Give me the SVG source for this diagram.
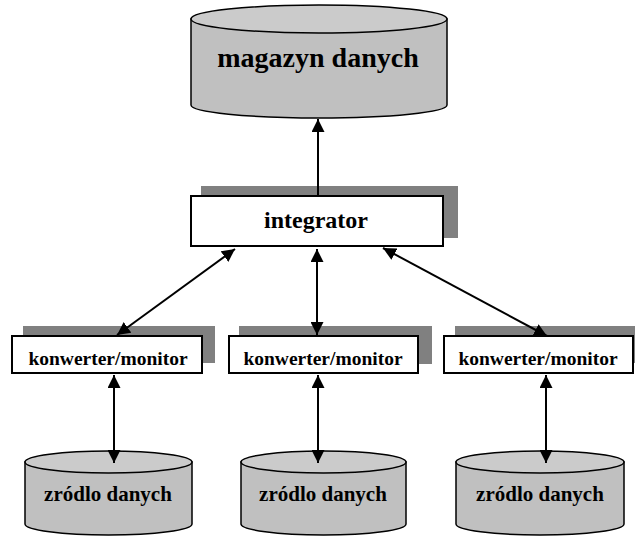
<svg xmlns="http://www.w3.org/2000/svg" width="635" height="537" viewBox="0 0 635 537">
<defs>
<style>
.shadow{fill:#808080;stroke:none}
.box{fill:#fff;stroke:#000;stroke-width:2}
.cyl{fill:#c0c0c0;stroke:#000;stroke-width:1.5}
.top{fill:#cbcbcb;stroke:#000;stroke-width:1.5}
.t{font-family:"Liberation Serif","Times New Roman",serif;font-weight:bold;fill:#000;text-anchor:middle}
.conn{stroke:#000;stroke-width:2;fill:none}
</style>
<marker id="ah" viewBox="0 0 13 13" refX="13" refY="6.5" markerWidth="13" markerHeight="13" markerUnits="userSpaceOnUse" orient="auto-start-reverse">
<path d="M0,0 L13,6.5 L0,13 Z" fill="#000"/>
</marker>
</defs>
<rect width="635" height="537" fill="#fff"/>

<g id="magazyn">
<path class="cyl" d="M191,19 L191,105 A128,13 0 0 0 447,105 L447,19 Z"/>
<ellipse class="top" cx="319" cy="19" rx="128" ry="14"/>
<text class="t" x="318" y="67" font-size="28">magazyn danych</text>
</g>

<g id="integrator">
<rect class="shadow" x="201" y="186" width="257" height="52"/>
<rect class="box" x="191" y="196" width="252" height="50"/>
<text class="t" x="316" y="228" font-size="24">integrator</text>
</g>

<g id="konw1">
<rect class="shadow" x="23" y="326" width="192" height="37"/>
<rect class="box" x="12" y="336" width="190" height="37"/>
<text class="t" x="108" y="365" font-size="19.5">konwerter/monitor</text>
</g>

<g id="konw2">
<rect class="shadow" x="239" y="326" width="193" height="38"/>
<rect class="box" x="229" y="336" width="189" height="37"/>
<text class="t" x="323" y="365" font-size="19.5">konwerter/monitor</text>
</g>

<g id="konw3">
<rect class="shadow" x="455" y="326" width="180" height="37"/>
<rect class="box" x="444" y="336" width="189" height="37"/>
<text class="t" x="538" y="365" font-size="19.5">konwerter/monitor</text>
</g>

<g id="zrodlo1">
<path class="cyl" d="M25,462 L25,524 A83.5,11 0 0 0 192,524 L192,462 Z"/>
<ellipse class="top" cx="108.5" cy="462" rx="83.5" ry="11"/>
<text class="t" x="108" y="501" font-size="21">zródlo danych</text>
</g>

<g id="zrodlo2">
<path class="cyl" d="M241,462 L241,524 A82.5,11 0 0 0 406,524 L406,462 Z"/>
<ellipse class="top" cx="323.5" cy="462" rx="82.5" ry="11"/>
<text class="t" x="323" y="501" font-size="21">zródlo danych</text>
</g>

<g id="zrodlo3">
<path class="cyl" d="M456,462 L456,524 A84,11 0 0 0 624,524 L624,462 Z"/>
<ellipse class="top" cx="540" cy="462" rx="84" ry="11"/>
<text class="t" x="540" y="501" font-size="21">zródlo danych</text>
</g>

<g id="connectors">
<line class="conn" x1="318" y1="196" x2="318" y2="119" marker-end="url(#ah)"/>
<line class="conn" x1="235" y1="249" x2="117" y2="335" marker-start="url(#ah)" marker-end="url(#ah)"/>
<line class="conn" x1="317" y1="249" x2="317" y2="335" marker-start="url(#ah)" marker-end="url(#ah)"/>
<line class="conn" x1="383" y1="248" x2="547" y2="336" marker-start="url(#ah)" marker-end="url(#ah)"/>
<line class="conn" x1="114" y1="375" x2="114" y2="463" marker-start="url(#ah)" marker-end="url(#ah)"/>
<line class="conn" x1="318" y1="375" x2="318" y2="463" marker-start="url(#ah)" marker-end="url(#ah)"/>
<line class="conn" x1="546" y1="375" x2="546" y2="463" marker-start="url(#ah)" marker-end="url(#ah)"/>
</g>
</svg>
